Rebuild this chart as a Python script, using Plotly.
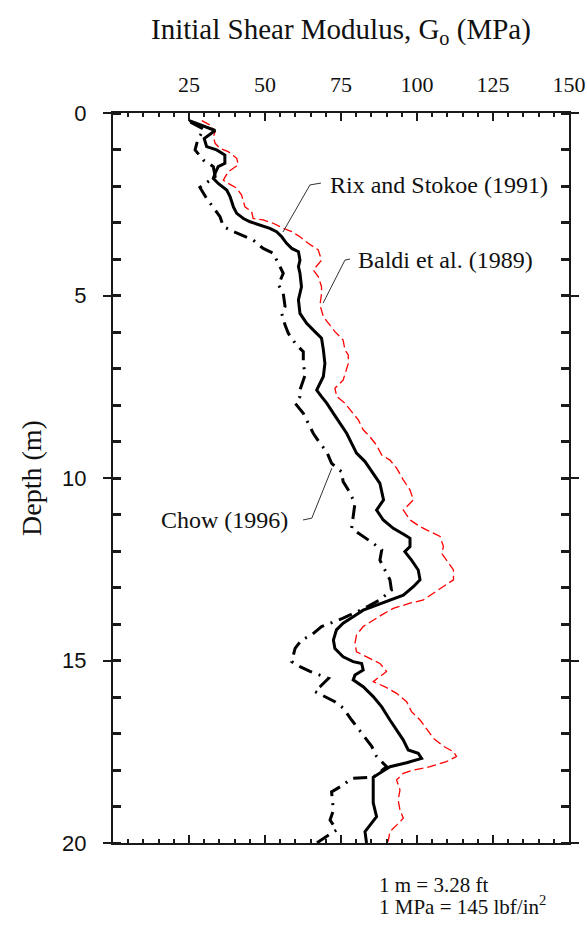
import plotly.graph_objects as go

# ---- Data ----
# Rix and Stokoe (1991) - solid black
rix_G = [25.1, 28.6, 33.6, 30.0, 30.8, 34.1, 36.8, 36.8, 34.6, 33.6, 33.0, 34.6, 37.4, 38.5, 39.6, 40.7,
         42.9, 45.1, 48.4, 51.6, 53.8, 55.5, 57.1, 58.8, 61.0, 61.5, 61.0, 61.5, 62.0, 61.0, 61.5, 63.7,
         66.4, 68.6, 69.2, 69.7, 69.2, 67.0, 68.6, 70.3, 72.5, 74.7, 76.9, 78.5, 80.1, 82.9, 85.1, 87.8,
         89.0, 86.7, 88.9, 92.2, 96.0, 97.7, 97.7, 96.0, 98.2, 100.4, 101.0, 98.8, 95.5, 91.1, 86.7, 82.3,
         79.0, 75.7, 73.5, 72.5, 73.0, 75.7, 79.0, 81.8, 82.3, 79.6, 79.0, 82.3, 85.6, 88.4, 91.1, 93.3,
         95.5, 97.1, 100.4, 101.5, 96.6, 91.1, 88.4, 85.6, 85.6, 85.6, 86.7, 85.1, 82.9, 83.4]
rix_d = [0.21, 0.33, 0.48, 0.70, 0.92, 1.01, 1.15, 1.38, 1.47, 1.65, 1.79, 1.93, 2.11, 2.29, 2.57, 2.75,
         2.89, 2.98, 3.07, 3.16, 3.25, 3.39, 3.57, 3.71, 3.80, 4.03, 4.21, 4.39, 4.76, 5.12, 5.49, 5.76,
         5.99, 6.17, 6.49, 6.86, 7.22, 7.59, 7.77, 7.95, 8.23, 8.50, 8.78, 9.05, 9.32, 9.55, 9.83, 10.15,
         10.60, 10.88, 11.15, 11.38, 11.56, 11.65, 11.88, 12.02, 12.25, 12.52, 12.79, 12.98, 13.21, 13.34, 13.48, 13.62,
         13.80, 13.98, 14.16, 14.44, 14.67, 14.90, 15.03, 15.08, 15.26, 15.40, 15.53, 15.72, 15.99, 16.27, 16.63, 16.90,
         17.18, 17.45, 17.54, 17.68, 17.80, 17.91, 18.05, 18.20, 18.46, 18.90, 19.28, 19.46, 19.69, 20.0]

# Chow (1996) - dash-dot black
chow_G = [25.5, 30.0, 28.0, 27.0, 29.7, 33.0, 33.6, 31.9, 28.6, 30.8, 35.2, 36.3, 39.6, 46.1, 49.4, 52.7,
          56.0, 54.4, 56.0, 56.6, 55.5, 56.6, 57.7, 60.4, 62.6, 62.6, 63.2, 61.5, 61.5, 59.9, 62.6, 65.9,
          68.1, 70.3, 71.9, 75.2, 75.7, 77.4, 79.6, 79.0, 78.5, 85.6, 88.4, 87.8, 91.1, 91.6, 87.8, 82.0,
          75.7, 68.6, 65.3, 62.0, 59.9, 58.8, 61.5, 64.8, 70.9, 68.1, 66.4, 73.0, 75.7, 78.5, 82.9, 85.1,
          86.7, 90.0, 85.6, 78.5, 75.7, 71.9, 72.5, 71.4, 73.6, 67.0]
chow_d = [0.25, 0.45, 0.70, 1.01, 1.29, 1.47, 1.74, 1.84, 2.04, 2.34, 2.84, 3.11, 3.25, 3.48, 3.71, 3.84,
          4.39, 4.71, 4.94, 5.30, 5.49, 5.81, 6.04, 6.36, 6.54, 6.86, 7.18, 7.59, 7.77, 7.95, 8.23, 8.78,
          9.05, 9.28, 9.60, 9.83, 10.10, 10.33, 10.69, 11.06, 11.38, 11.79, 11.97, 12.25, 12.79, 13.07, 13.34, 13.60,
          13.84, 14.07, 14.30, 14.44, 14.67, 15.03, 15.17, 15.30, 15.49, 15.72, 15.85, 16.13, 16.30, 16.63, 17.13, 17.35,
          17.63, 17.91, 18.20, 18.23, 18.41, 18.60, 19.10, 19.37, 19.64, 20.0]

# Baldi et al. (1989) - red dashed
baldi_G = [29.2, 31.9, 33.6, 33.0, 33.6, 35.2, 37.9, 40.7, 41.2, 39.6, 37.9, 36.3, 37.9, 40.7, 42.3, 43.4,
           45.6, 46.1, 49.4, 52.7, 56.0, 58.8, 61.5, 64.2, 67.5, 68.6, 65.9, 67.5, 68.6, 68.6, 68.1, 69.2,
           70.8, 73.0, 75.7, 76.3, 77.4, 77.4, 75.7, 73.0, 73.6, 76.3, 78.5, 80.7, 82.3, 84.5, 86.7, 88.4,
           91.1, 93.3, 95.5, 97.7, 98.8, 95.5, 97.7, 101.0, 103.1, 107.6, 108.7, 108.1, 109.7, 112.0, 112.0, 108.7,
           105.4, 102.1, 97.7, 92.2, 88.4, 84.5, 82.3, 80.1, 79.6, 80.1, 83.4, 87.8, 90.0, 87.8, 85.6, 89.5,
           93.3, 96.6, 98.2, 101.0, 103.1, 105.4, 108.7, 112.0, 113.0, 109.7, 104.3, 98.8, 95.5, 93.3, 94.4, 93.8,
           94.4, 95.5, 93.3, 91.1, 90.5]
baldi_d = [0.21, 0.33, 0.51, 0.65, 0.83, 0.97, 1.06, 1.24, 1.42, 1.52, 1.61, 1.84, 1.93, 2.06, 2.25, 2.57,
           2.70, 2.89, 2.93, 3.02, 3.16, 3.25, 3.39, 3.57, 3.75, 4.03, 4.30, 4.48, 4.76, 4.94, 5.26, 5.58,
           5.76, 5.99, 6.22, 6.49, 6.63, 6.86, 7.32, 7.54, 7.77, 7.95, 8.18, 8.41, 8.68, 8.87, 9.10, 9.37,
           9.51, 9.73, 10.05, 10.33, 10.60, 10.88, 11.15, 11.33, 11.42, 11.60, 11.88, 12.06, 12.25, 12.52, 12.79, 12.98,
           13.16, 13.34, 13.43, 13.57, 13.75, 13.94, 14.07, 14.30, 14.53, 14.76, 14.90, 15.08, 15.30, 15.44, 15.58, 15.72,
           15.90, 16.13, 16.40, 16.63, 16.86, 17.13, 17.35, 17.50, 17.63, 17.77, 17.91, 18.00, 18.09, 18.27, 18.55, 18.82,
           19.10, 19.32, 19.51, 19.69, 19.96]

x_ticks = [25, 50, 75, 100, 125, 150]
y_ticks = [0, 5, 10, 15, 20]

SERIF = "Liberation Serif, Times New Roman, serif"
SANS = "Liberation Sans, Arial, sans-serif"
AX = "#1a1a1a"

fig = go.Figure()
fig.add_trace(go.Scatter(x=baldi_G, y=baldi_d, mode="lines",
                         line=dict(color="#ff0000", width=1.3, dash="9px,4px"), showlegend=False))
fig.add_trace(go.Scatter(x=chow_G, y=chow_d, mode="lines",
                         line=dict(color="black", width=3, dash="14px,7px,2px,7px"), showlegend=False))
fig.add_trace(go.Scatter(x=rix_G, y=rix_d, mode="lines",
                         line=dict(color="black", width=3), showlegend=False))

# leader lines for labels
leaders = [
    ([68.4, 64.8, 55.9], [1.92, 1.97, 3.26]),
    ([78.0, 76.3, 69.1], [4.00, 4.03, 5.21]),
    ([62.5, 65.4, 72.0], [11.15, 11.10, 9.73]),
]
for lx, ly in leaders:
    fig.add_trace(go.Scatter(x=lx, y=ly, mode="lines", line=dict(color="#333", width=1),
                             showlegend=False, hoverinfo="skip"))

fig.update_layout(
    width=587, height=925, autosize=False,
    margin=dict(l=113, r=18, t=113, b=82),
    plot_bgcolor="white", paper_bgcolor="white",
    xaxis=dict(range=[0, 150], side="top", tickvals=x_ticks, ticks="inside", ticklen=8, tickwidth=2,
               tickcolor=AX, showline=True, linecolor=AX, linewidth=2, mirror="ticks",
               showgrid=False, zeroline=False, ticklabelstandoff=10, automargin=False,
               tickfont=dict(family=SERIF, size=22, color="#111"),
               minor=dict(dtick=5, tick0=0, ticks="inside", ticklen=4, tickwidth=2, tickcolor=AX, showgrid=False)),
    yaxis=dict(range=[20, 0], tickvals=y_ticks, ticks="outside", ticklen=8, tickwidth=2,
               tickcolor=AX, showline=True, linecolor=AX, linewidth=2, mirror="ticks",
               showgrid=False, zeroline=False, ticklabelstandoff=12, automargin=False,
               tickfont=dict(family=SANS, size=22, color="#111"),
               minor=dict(dtick=1, tick0=0, ticks="inside", ticklen=8, tickwidth=3, tickcolor=AX, showgrid=False)),
)

annots = [
    dict(text="Initial Shear Modulus, G<sub>o</sub> (MPa)", x=0.5, y=1.112, xref="paper", yref="paper",
         xanchor="center", yanchor="middle", showarrow=False, font=dict(family=SERIF, size=29, color="#111")),
    dict(text="Depth (m)", x=-0.18, y=0.5, xref="paper", yref="paper", textangle=-90,
         xanchor="center", yanchor="middle", showarrow=False, font=dict(family=SERIF, size=28, color="#111")),
    dict(text="Rix and Stokoe (1991)", x=70.7, y=1.97, xanchor="left", yanchor="middle",
         showarrow=False, font=dict(family=SERIF, size=24, color="#111")),
    dict(text="Baldi et al. (1989)", x=79.9, y=4.03, xanchor="left", yanchor="middle",
         showarrow=False, font=dict(family=SERIF, size=24, color="#111")),
    dict(text="Chow (1996)", x=58.2, y=11.15, xanchor="right", yanchor="middle",
         showarrow=False, font=dict(family=SERIF, size=24, color="#111")),
    dict(text="1 m = 3.28 ft", x=0.579, y=-0.057, xref="paper", yref="paper",
         xanchor="left", yanchor="middle", align="left", showarrow=False,
         font=dict(family=SERIF, size=21, color="#111")),
    dict(text="1 MPa = 145 lbf/in<sup>2</sup>", x=0.579, y=-0.086, xref="paper", yref="paper",
         xanchor="left", yanchor="middle", align="left", showarrow=False,
         font=dict(family=SERIF, size=21, color="#111")),
]
fig.update_layout(annotations=annots)

# remove the default page margin so the figure sits at the window origin
fig.write_html("out.html",
               config={"responsive": False, "displayModeBar": False},
               post_script="document.body.style.margin='0';document.body.style.overflow='hidden';")
